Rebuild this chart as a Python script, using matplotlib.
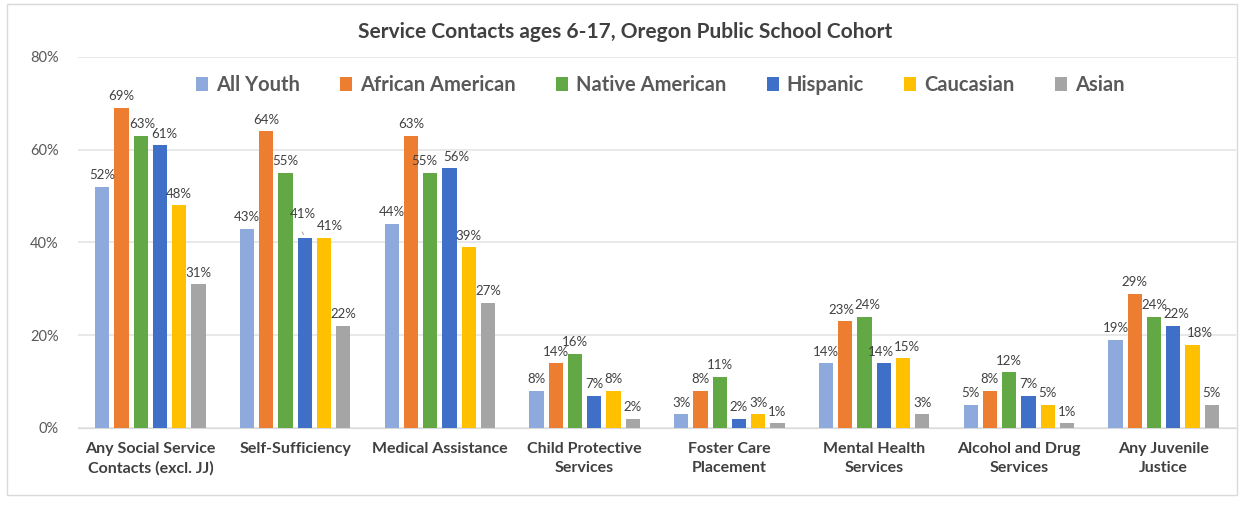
import matplotlib.pyplot as plt
import numpy as np
from matplotlib.patches import Rectangle

plt.rcParams['font.family'] = ['Lato', 'DejaVu Sans']

# service categories and rates (%) by group
categories = ['Any Social Service\nContacts (excl. JJ)', 'Self-Sufficiency', 'Medical Assistance',
              'Child Protective\nServices', 'Foster Care\nPlacement', 'Mental Health\nServices',
              'Alcohol and Drug\nServices', 'Any Juvenile\nJustice']
groups = ['All Youth', 'African American', 'Native American', 'Hispanic', 'Caucasian', 'Asian']

all_youth = [52, 43, 44, 8, 3, 14, 5, 19]
african_american = [69, 64, 63, 14, 8, 23, 8, 29]
native_american = [63, 55, 55, 16, 11, 24, 12, 24]
hispanic = [61, 41, 56, 7, 2, 14, 7, 22]
caucasian = [48, 41, 39, 8, 3, 15, 5, 18]
asian = [31, 22, 27, 2, 1, 3, 1, 5]

series = [all_youth, african_american, native_american, hispanic, caucasian, asian]
colors = ['#8EA9DB', '#ED7D31', '#62A844', '#3F6FC6', '#FFC000', '#A5A5A5']

# nudges (points) for crowded value labels: (series, category) -> (dx, dy)
nudge = {(3, 1): (-1, 9), (4, 1): (4, 0), (2, 2): (-4, 0), (3, 2): (5, 0),
         (3, 5): (-2, 0), (4, 5): (3, 0), (3, 7): (2, 0), (4, 7): (5, 0),
         (2, 0): (1, 0), (3, 0): (3, 0), (1, 5): (-3, 0), (2, 5): (2, 0)}

fig = plt.figure(figsize=(12.5, 5.08), dpi=100)
ax = fig.add_axes([0.0624, 0.1575, 0.9264, 0.7303])

x = np.arange(len(categories))
pitch = 0.133
width = 0.1

for i, (vals, col, name) in enumerate(zip(series, colors, groups)):
    pos = x + (i - 2.5) * pitch
    v = np.array(vals) / 100
    ax.bar(pos, v, width=width, color=col, label=name, zorder=3)
    for j, (px, pv, lab) in enumerate(zip(pos, v, vals)):
        dx, dy = nudge.get((i, j), (0, 0))
        ax.annotate(f'{lab}%', (px, pv), xytext=(dx, 4 + dy), textcoords='offset points',
                    ha='center', va='bottom', fontsize=9.5, color='#404040', zorder=4)

# leader line for the raised Hispanic label
ax.annotate('', xy=(1 + 0.5 * pitch, 0.412), xytext=(1 + 0.3 * pitch, 0.428),
            arrowprops=dict(arrowstyle='-', color='#A6A6A6', lw=0.8), zorder=4)

ax.set_xlim(-0.5, len(categories) - 0.5)
ax.set_ylim(0, 0.8)
ax.set_yticks([0, 0.2, 0.4, 0.6, 0.8])
ax.set_yticklabels(['0%', '20%', '40%', '60%', '80%'])
ax.tick_params(axis='y', length=0, pad=14, labelsize=10.5, labelcolor='#595959')
ax.set_xticks(x)
ax.set_xticklabels(categories, fontsize=11.5, fontweight='bold', color='#404040', linespacing=1.45)
ax.tick_params(axis='x', length=0, pad=10)

ax.yaxis.grid(True, color='#E4E4E4', linewidth=1.2, zorder=0)
for s in ['top', 'right', 'left']:
    ax.spines[s].set_visible(False)
ax.spines['bottom'].set_color('#D9D9D9')

fig.text(0.5, 0.937, 'Service Contacts ages 6-17, Oregon Public School Cohort',
         ha='center', va='center', fontsize=15, fontweight='bold', color='#404040')

leg = fig.legend(loc='center', bbox_to_anchor=(0.528, 0.833), ncol=6, frameon=False,
                 handlelength=0.6, handleheight=0.7, handletextpad=0.4, columnspacing=2.0,
                 prop={'size': 14.5, 'weight': 'bold'})
for t in leg.get_texts():
    t.set_color('#595959')

# chart border
fig.patches.append(Rectangle((7 / 1250, 1 - 495 / 508), 1230 / 1250, 491 / 508,
                             transform=fig.transFigure, fill=False, edgecolor='#D9D9D9', linewidth=1))

fig.savefig('out.png', dpi=100)
